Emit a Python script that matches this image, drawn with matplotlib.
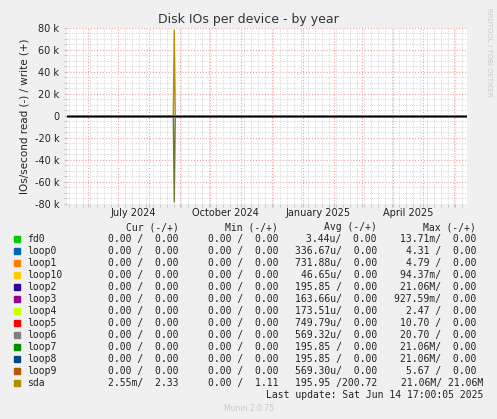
import numpy as np
import matplotlib
matplotlib.use("Agg")
import matplotlib.pyplot as plt
import matplotlib.dates as mdates
from datetime import datetime

# Devices and munin colours
devices = ["fd0", "loop0", "loop1", "loop10", "loop2", "loop3", "loop4",
           "loop5", "loop6", "loop7", "loop8", "loop9", "sda"]
colors = ["#00CC00", "#0066B3", "#FF8000", "#FFCC00", "#330099", "#990099",
          "#CCFF00", "#FF0000", "#808080", "#008F00", "#00487D", "#B35A00", "#B38F00"]
cur = ["0.00 /  0.00"] * 12 + ["2.55m/  2.33"]
mins = ["0.00 /  0.00"] * 12 + ["0.00 /  1.11"]
avgs = ["3.44u/  0.00", "336.67u/  0.00", "731.88u/  0.00", "46.65u/  0.00",
        "195.85 /  0.00", "163.66u/  0.00", "173.51u/  0.00", "749.79u/  0.00",
        "569.32u/  0.00", "195.85 /  0.00", "195.85 /  0.00", "569.30u/  0.00",
        "195.95 /200.72"]
maxs = ["13.71m/  0.00", "4.31 /  0.00", "4.79 /  0.00", "94.37m/  0.00",
        "21.06M/  0.00", "927.59m/  0.00", "2.47 /  0.00", "10.70 /  0.00",
        "20.70 /  0.00", "21.06M/  0.00", "21.06M/  0.00", "5.67 /  0.00",
        "21.06M/ 21.06M"]

# Time series (sda spike in late August 2024)
dates = [datetime(2024, 5, 11), datetime(2024, 8, 25), datetime(2024, 8, 26),
         datetime(2024, 8, 27), datetime(2025, 6, 14)]
sda_write = [0, 0, 78000, 0, 0]
sda_read = [0, 0, 78000, 0, 0]
flat = [0, 0, 0, 0, 0]

fig = plt.figure(figsize=(4.97, 4.19), dpi=100, facecolor="#F0F0F0")
ax = fig.add_axes([67/497, 1-204/419, 400/497, 176/419])
ax.set_facecolor("white")
xd = mdates.date2num(dates)
for name, c in zip(devices, colors):
    if name == "sda":
        ax.plot(xd, sda_write, color=c, lw=1)
        ax.plot(xd, -np.array(sda_read), color="#6B7A2A", lw=1)
    else:
        ax.plot(xd, flat, color=c, lw=1)
ax.axhline(0, color="black", lw=0.8)
ax.set_xlim(xd[0], xd[-1])
ax.set_ylim(-80000, 80000)
ax.yaxis.set_major_locator(plt.MultipleLocator(20000))
ax.yaxis.set_minor_locator(plt.MultipleLocator(5000))
ax.yaxis.set_major_formatter(plt.FuncFormatter(lambda v, p: "0" if v == 0 else f"{v/1000:.0f} k"))
ax.xaxis.set_major_locator(mdates.MonthLocator())
ax.xaxis.set_minor_locator(mdates.WeekdayLocator(byweekday=0))
ax.xaxis.set_major_formatter(plt.NullFormatter())
for d, lab in [(datetime(2024, 7, 16), "July 2024"), (datetime(2024, 10, 16), "October 2024"),
               (datetime(2025, 1, 16), "January 2025"), (datetime(2025, 4, 16), "April 2025")]:
    ax.text(mdates.date2num(d), -84000, lab, ha="center", va="top", fontsize=7, color="#222222")
ax.grid(which="major", color="#F0A0A0", ls=":", lw=0.8)
ax.grid(which="minor", color="#C8C8C8", ls=":", lw=0.6)
ax.tick_params(which="both", length=2, colors="#C0C0C0", labelsize=7, labelcolor="#222222")
for s in ax.spines.values():
    s.set_visible(False)
ax.set_ylabel("IOs/second read (-) / write (+)", fontsize=7.5, color="#222222")
fig.text(0.5, 1-19/419, "Disk IOs per device - by year", ha="center", va="center",
         fontsize=9, color="#333333")
fig.text(489/497, 1-8/419, "RRDTOOL / TOBI OETIKER", rotation=270, ha="center", va="top",
         fontsize=5, color="#C8C8C8")

mono = "DejaVu Sans Mono"
tc = "#222222"
def ty(y):
    return 1 - y/419
for x, h in [(179, "Cur (-/+)"), (278, "Min (-/+)"), (377, "Avg (-/+)"), (476, "Max (-/+)")]:
    fig.text(x/497, ty(227), h, ha="right", va="center", family=mono, fontsize=7, color=tc)
for i, name in enumerate(devices):
    y = 239 + 12*i
    fig.patches.append(plt.Rectangle((14/497, ty(y+3)), 6/497, 6/419, color=colors[i],
                                     transform=fig.transFigure, figure=fig))
    fig.text(27/497, ty(y), name, ha="left", va="center", family=mono, fontsize=7, color=tc)
    mx = 483 if name == "sda" else 476
    for x, s in [(179, cur[i]), (278, mins[i]), (377, avgs[i]), (mx, maxs[i])]:
        fig.text(x/497, ty(y), s, ha="right", va="center", family=mono, fontsize=7, color=tc)
fig.text(483/497, ty(395), "Last update: Sat Jun 14 17:00:05 2025", ha="right", va="center",
         family=mono, fontsize=7, color=tc)
fig.text(0.5, ty(408), "Munin 2.0.75", ha="center", va="center", fontsize=5.5, color="#C8C8C8")

fig.savefig("out.png", dpi=100, facecolor=fig.get_facecolor())
